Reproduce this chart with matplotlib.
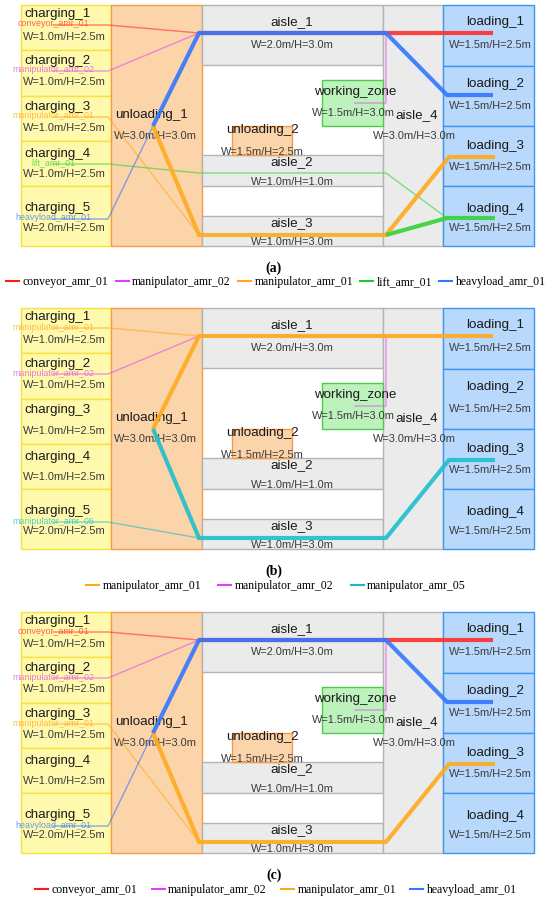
import matplotlib
matplotlib.use('Agg')
import matplotlib.pyplot as plt
from matplotlib.patches import Rectangle
from matplotlib.lines import Line2D

# ---- data: zones of the floor plan ----
zone_names = ['charging_1', 'charging_2', 'charging_3', 'charging_4', 'charging_5',
              'unloading_1', 'aisle_1', 'aisle_2', 'aisle_3', 'aisle_4',
              'working_zone', 'unloading_2',
              'loading_1', 'loading_2', 'loading_3', 'loading_4']
zone_dims = ['W=1.0m/H=2.5m', 'W=1.0m/H=2.5m', 'W=1.0m/H=2.5m', 'W=1.0m/H=2.5m', 'W=2.0m/H=2.5m',
             'W=3.0m/H=3.0m', 'W=2.0m/H=3.0m', 'W=1.0m/H=1.0m', 'W=1.0m/H=3.0m', 'W=3.0m/H=3.0m',
             'W=1.5m/H=3.0m', 'W=1.5m/H=2.5m',
             'W=1.5m/H=2.5m', 'W=1.5m/H=2.5m', 'W=1.5m/H=2.5m', 'W=1.5m/H=2.5m']

# ---- data: robots, their charger, approach route (thin) and task route (thick) ----
robots_a = ['conveyor_amr_01', 'manipulator_amr_02', 'manipulator_amr_01', 'lift_amr_01', 'heavyload_amr_01']
start_a = ['charging_1', 'charging_2', 'charging_3', 'charging_4', 'charging_5']
approach_a = [['aisle_1_w'],
              ['aisle_1_w', 'aisle_1_e', 'aisle_4_wz', 'working_zone'],
              ['aisle_3_w'],
              ['aisle_2_w', 'aisle_2_e', 'loading_4_in'],
              ['unloading_1']]
task_a = [['aisle_1_w', 'aisle_1_e', 'loading_1'],
          [],
          ['unloading_1', 'aisle_3_w', 'aisle_3_e', 'loading_3_in', 'loading_3'],
          ['aisle_3_e', 'loading_4_in', 'loading_4'],
          ['unloading_1', 'aisle_1_w', 'aisle_1_e', 'loading_2_in', 'loading_2']]

robots_b = ['manipulator_amr_01', 'manipulator_amr_02', 'manipulator_amr_05']
start_b = ['charging_1', 'charging_2', 'charging_5']
approach_b = [['aisle_1_w'],
              ['aisle_1_w', 'aisle_1_e', 'aisle_4_wz', 'working_zone'],
              ['aisle_3_w']]
task_b = [['unloading_1', 'aisle_1_w', 'aisle_1_e', 'loading_1'],
          [],
          ['unloading_1', 'aisle_3_w', 'aisle_3_e', 'loading_3_in', 'loading_3']]

robots_c = ['conveyor_amr_01', 'manipulator_amr_02', 'manipulator_amr_01', 'heavyload_amr_01']
start_c = ['charging_1', 'charging_2', 'charging_3', 'charging_5']
approach_c = [['aisle_1_w'],
              ['aisle_1_w', 'aisle_1_e', 'aisle_4_wz', 'working_zone'],
              ['aisle_3_w'],
              ['unloading_1']]
task_c = [['aisle_1_w', 'aisle_1_e', 'loading_1'],
          [],
          ['unloading_1', 'aisle_3_w', 'aisle_3_e', 'loading_3_in', 'loading_3'],
          ['unloading_1', 'aisle_1_w', 'aisle_1_e', 'loading_2_in', 'loading_2']]

# ---- layout (pixel units of one panel) ----
zone_rect = {
    'charging_1': (21, 5, 90, 45), 'charging_2': (21, 50, 90, 46),
    'charging_3': (21, 96, 90, 45), 'charging_4': (21, 141, 90, 45),
    'charging_5': (21, 186, 90, 60),
    'unloading_1': (111, 5, 91, 241),
    'aisle_4': (383, 5, 60, 241),
    'aisle_1': (202, 5, 181, 60), 'aisle_2': (202, 155, 181, 31), 'aisle_3': (202, 216, 181, 30),
    'working_zone': (322, 80, 61, 46), 'unloading_2': (232, 126, 60, 29),
    'loading_1': (443, 5, 91, 61), 'loading_2': (443, 66, 91, 60),
    'loading_3': (443, 126, 91, 60), 'loading_4': (443, 186, 91, 60),
}
# (x, y) of name, (x, y) of dims text, alignment
zone_text = {
    'charging_1': (24, 14, 23, 37, 'left'), 'charging_2': (24, 61, 23, 82, 'left'),
    'charging_3': (24, 107, 23, 128, 'left'), 'charging_4': (24, 154, 23, 174, 'left'),
    'charging_5': (24, 208, 23, 228, 'left'),
    'unloading_1': (115, 115, 114, 136, 'left'),
    'aisle_1': (292, 22, 292, 45, 'center'), 'aisle_2': (292, 162, 292, 182, 'center'),
    'aisle_3': (292, 223, 292, 242, 'center'), 'aisle_4': (417, 115, 414, 136, 'center'),
    'working_zone': (355, 92, 353, 113, 'center'), 'unloading_2': (262, 130, 262, 152, 'center'),
    'loading_1': (495, 22, 490, 45, 'center'), 'loading_2': (495, 84, 490, 106, 'center'),
    'loading_3': (495, 146, 490, 167, 'center'), 'loading_4': (495, 209, 490, 228, 'center'),
}
zone_style = {'charging': ('#fff9ad', '#f5e23c'), 'unloading': ('#fcd4aa', '#f59a45'),
              'aisle': ('#ebebeb', '#b4b4b4'), 'working': ('#bdf2bd', '#4ccc4c'),
              'loading': ('#b8d9fb', '#3d95f5')}
charger_y = {'charging_1': 25, 'charging_2': 71, 'charging_3': 117, 'charging_4': 164, 'charging_5': 219}
nodes = {
    'unloading_1': (153, 126),
    'aisle_1_w': (199, 33), 'aisle_1_e': (386, 33),
    'aisle_2_w': (199, 173), 'aisle_2_e': (386, 173),
    'aisle_3_w': (199, 235), 'aisle_3_e': (386, 235),
    'aisle_4_wz': (386, 103), 'working_zone': (355, 103),
    'loading_1': (493, 33), 'loading_2_in': (447, 95), 'loading_2': (493, 95),
    'loading_3_in': (449, 157), 'loading_3': (495, 157),
    'loading_4_in': (447, 218), 'loading_4': (495, 218),
}
robot_color = {'conveyor_amr_01': '#ff2e2e', 'manipulator_amr_02': '#e050ee',
               'manipulator_amr_01': '#ffaa1e', 'lift_amr_01': '#36d236',
               'heavyload_amr_01': '#3377ff', 'manipulator_amr_05': '#1fbfcc'}
legend_color = {'conveyor_amr_01': '#ff1a1a', 'manipulator_amr_02': '#e040fb',
                'manipulator_amr_01': '#ffa81a', 'lift_amr_01': '#22cc22',
                'heavyload_amr_01': '#2a7bff', 'manipulator_amr_05': '#19b8c8'}

SANS = 'Liberation Sans'
SERIF = 'Liberation Serif'

fig = plt.figure(figsize=(5.5, 8.98), dpi=100)
ax = fig.add_axes([0, 0, 1, 1])
ax.set_xlim(0, 550)
ax.set_ylim(898, 0)
ax.axis('off')


def draw_panel(off, robots, starts, approach, task, caption, leg_y, colsp):
    for name in zone_names:
        x, y, w, h = zone_rect[name]
        fc, ec = zone_style[name.split('_')[0]]
        ax.add_patch(Rectangle((x, y + off), w, h, facecolor=fc, edgecolor=ec, lw=1.0, zorder=1))
    for name, dims in zip(zone_names, zone_dims):
        nx, ny, dx, dy, ha = zone_text[name]
        ax.text(nx, ny + off, name, fontsize=9.6, family=SANS, color='#1a1a1a',
                ha=ha, va='center', zorder=2)
        ax.text(dx, dy + off, dims, fontsize=7.9, family=SANS, color='#3a3a3a',
                ha=ha, va='center', zorder=2)

    for rb, st, ap in zip(robots, starts, approach):
        cy = charger_y[st]
        pts = [(53, cy), (108, cy)] + [nodes[n] for n in ap]
        ax.plot([p[0] for p in pts], [p[1] + off for p in pts], color=robot_color[rb],
                lw=1.0, alpha=0.6, zorder=3, solid_joinstyle='miter')
        ax.text(53, cy + off - 1, rb, fontsize=6.4, family=SANS, color=robot_color[rb],
                alpha=0.75, ha='center', va='center', zorder=4)
    for rb, tk in zip(robots, task):
        if not tk:
            continue
        pts = [nodes[n] for n in tk]
        ax.plot([p[0] for p in pts], [p[1] + off for p in pts], color=robot_color[rb],
                lw=3.0, alpha=0.9, zorder=5, solid_joinstyle='miter', solid_capstyle='butt')

    ax.text(274, 268 + off, caption, fontsize=10, family=SERIF, fontweight='bold',
            ha='center', va='center')
    handles = [Line2D([], [], color=legend_color[rb], lw=1.5) for rb in robots]
    fig.legend(handles, robots, loc='center', bbox_to_anchor=(0.502, 1 - (leg_y + off) / 898),
               ncol=len(robots), frameon=False, prop={'family': SERIF, 'size': 8.5},
               handlelength=1.1, handletextpad=0.3, columnspacing=colsp, borderpad=0,
               borderaxespad=0)


draw_panel(0, robots_a, start_a, approach_a, task_a, '(a)', 282, 0.6)
draw_panel(303, robots_b, start_b, approach_b, task_b, '(b)', 283, 1.45)
draw_panel(607, robots_c, start_c, approach_c, task_c, '(c)', 283, 1.2)

fig.savefig('out.png', dpi=100)
